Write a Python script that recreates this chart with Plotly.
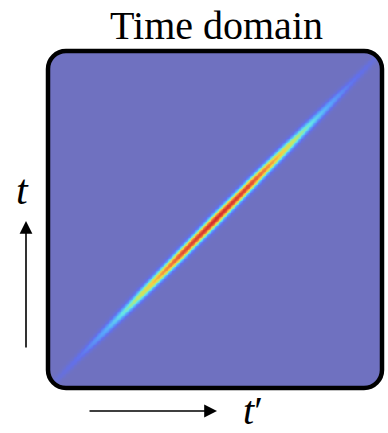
import numpy as np
import plotly.graph_objects as go

# Sampled ridge profile along the diagonal t = t' (position 0..1 across the panel)
ridge_pos = [0.0, 0.1, 0.2, 0.3, 0.4, 0.5, 0.6, 0.7, 0.8, 0.9, 1.0]
ridge_peak = [0.03, 0.14, 0.36, 0.66, 0.92, 1.0, 0.94, 0.68, 0.38, 0.15, 0.04]
ridge_width = [0.013, 0.015, 0.018, 0.020, 0.021, 0.022, 0.021, 0.020, 0.018, 0.015, 0.013]

title_text = "Time domain"
y_label = "<i>t</i>"
x_label = "<i>t</i>\u2032"

# Colour ramp: muted violet background through blue, cyan, yellow to red
colorscale = [
    [0.00, "rgb(111,113,192)"],
    [0.12, "rgb(98,112,235)"],
    [0.28, "rgb(88,165,252)"],
    [0.42, "rgb(100,228,232)"],
    [0.56, "rgb(190,232,110)"],
    [0.68, "rgb(245,205,70)"],
    [0.82, "rgb(240,125,60)"],
    [1.00, "rgb(212,45,45)"],
]

n = 420
tp = np.linspace(0, 1, n)
t = np.linspace(0, 1, n)
TP, T = np.meshgrid(tp, t)
s = (TP + T) / 2.0
d = T - TP
amp = np.interp(s, ridge_pos, ridge_peak)
wid = np.interp(s, ridge_pos, ridge_width)
z = amp * np.exp(-(d / wid) ** 2)

fig = go.Figure(
    go.Heatmap(
        x=tp, y=t, z=z, colorscale=colorscale, zmin=0, zmax=1,
        showscale=False, hoverinfo="skip", zsmooth="best",
    )
)

W, H = 388, 433
ml, mr, mt, mb = 48, 6, 51, 45
pw, ph = W - ml - mr, H - mt - mb
rad = 18
rx, ry = rad / pw, rad / ph
k = 0.5523


def corner_paths():
    """White masks outside the rounded corners and the rounded outline."""
    masks = [
        f"M0,0 L0,{ry} C0,{ry*(1-k)} {rx*(1-k)},0 {rx},0 Z",
        f"M1,0 L{1-rx},0 C{1-rx*(1-k)},0 1,{ry*(1-k)} 1,{ry} Z",
        f"M1,1 L1,{1-ry} C1,{1-ry*(1-k)} {1-rx*(1-k)},1 {1-rx},1 Z",
        f"M0,1 L{rx},1 C{rx*(1-k)},1 0,{1-ry*(1-k)} 0,{1-ry} Z",
    ]
    outline = (
        f"M{rx},0 L{1-rx},0 C{1-rx*(1-k)},0 1,{ry*(1-k)} 1,{ry} "
        f"L1,{1-ry} C1,{1-ry*(1-k)} {1-rx*(1-k)},1 {1-rx},1 "
        f"L{rx},1 C{rx*(1-k)},1 0,{1-ry*(1-k)} 0,{1-ry} "
        f"L0,{ry} C0,{ry*(1-k)} {rx*(1-k)},0 {rx},0 Z"
    )
    return masks, outline


masks, outline = corner_paths()
shapes = [
    dict(type="path", path=p, xref="paper", yref="paper",
         fillcolor="white", line=dict(width=0), layer="above")
    for p in masks
]
shapes.append(dict(type="path", path=outline, xref="paper", yref="paper",
                   line=dict(color="black", width=4.5), layer="above"))


def px(x):
    return (x - ml) / pw


def py(y):
    return (H - mb - y) / ph


serif = "Liberation Serif, Times New Roman, serif"
annotations = [
    dict(text=title_text, x=px(216), y=py(25), xref="paper", yref="paper",
         showarrow=False, font=dict(family=serif, size=40, color="black"),
         xanchor="center", yanchor="middle"),
    dict(text=y_label, x=px(22), y=py(190), xref="paper", yref="paper",
         showarrow=False, font=dict(family=serif, size=42, color="black"),
         xanchor="center", yanchor="middle"),
    dict(text=x_label, x=px(253), y=py(410), xref="paper", yref="paper",
         showarrow=False, font=dict(family=serif, size=40, color="black"),
         xanchor="center", yanchor="middle"),
    # arrow pointing up along t
    dict(text="", x=px(26), y=py(221), xref="paper", yref="paper",
         ax=0, ay=128, showarrow=True, arrowhead=2, arrowsize=1.6,
         arrowwidth=1.6, arrowcolor="black"),
    # arrow pointing right along t'
    dict(text="", x=px(217), y=py(411), xref="paper", yref="paper",
         ax=-129, ay=0, showarrow=True, arrowhead=2, arrowsize=1.6,
         arrowwidth=1.6, arrowcolor="black"),
]

fig.update_layout(
    width=W, height=H,
    margin=dict(l=ml, r=mr, t=mt, b=mb),
    paper_bgcolor="white", plot_bgcolor="white",
    xaxis=dict(visible=False, range=[0, 1]),
    yaxis=dict(visible=False, range=[0, 1]),
    shapes=shapes, annotations=annotations,
)

fig.write_html("out.html")
